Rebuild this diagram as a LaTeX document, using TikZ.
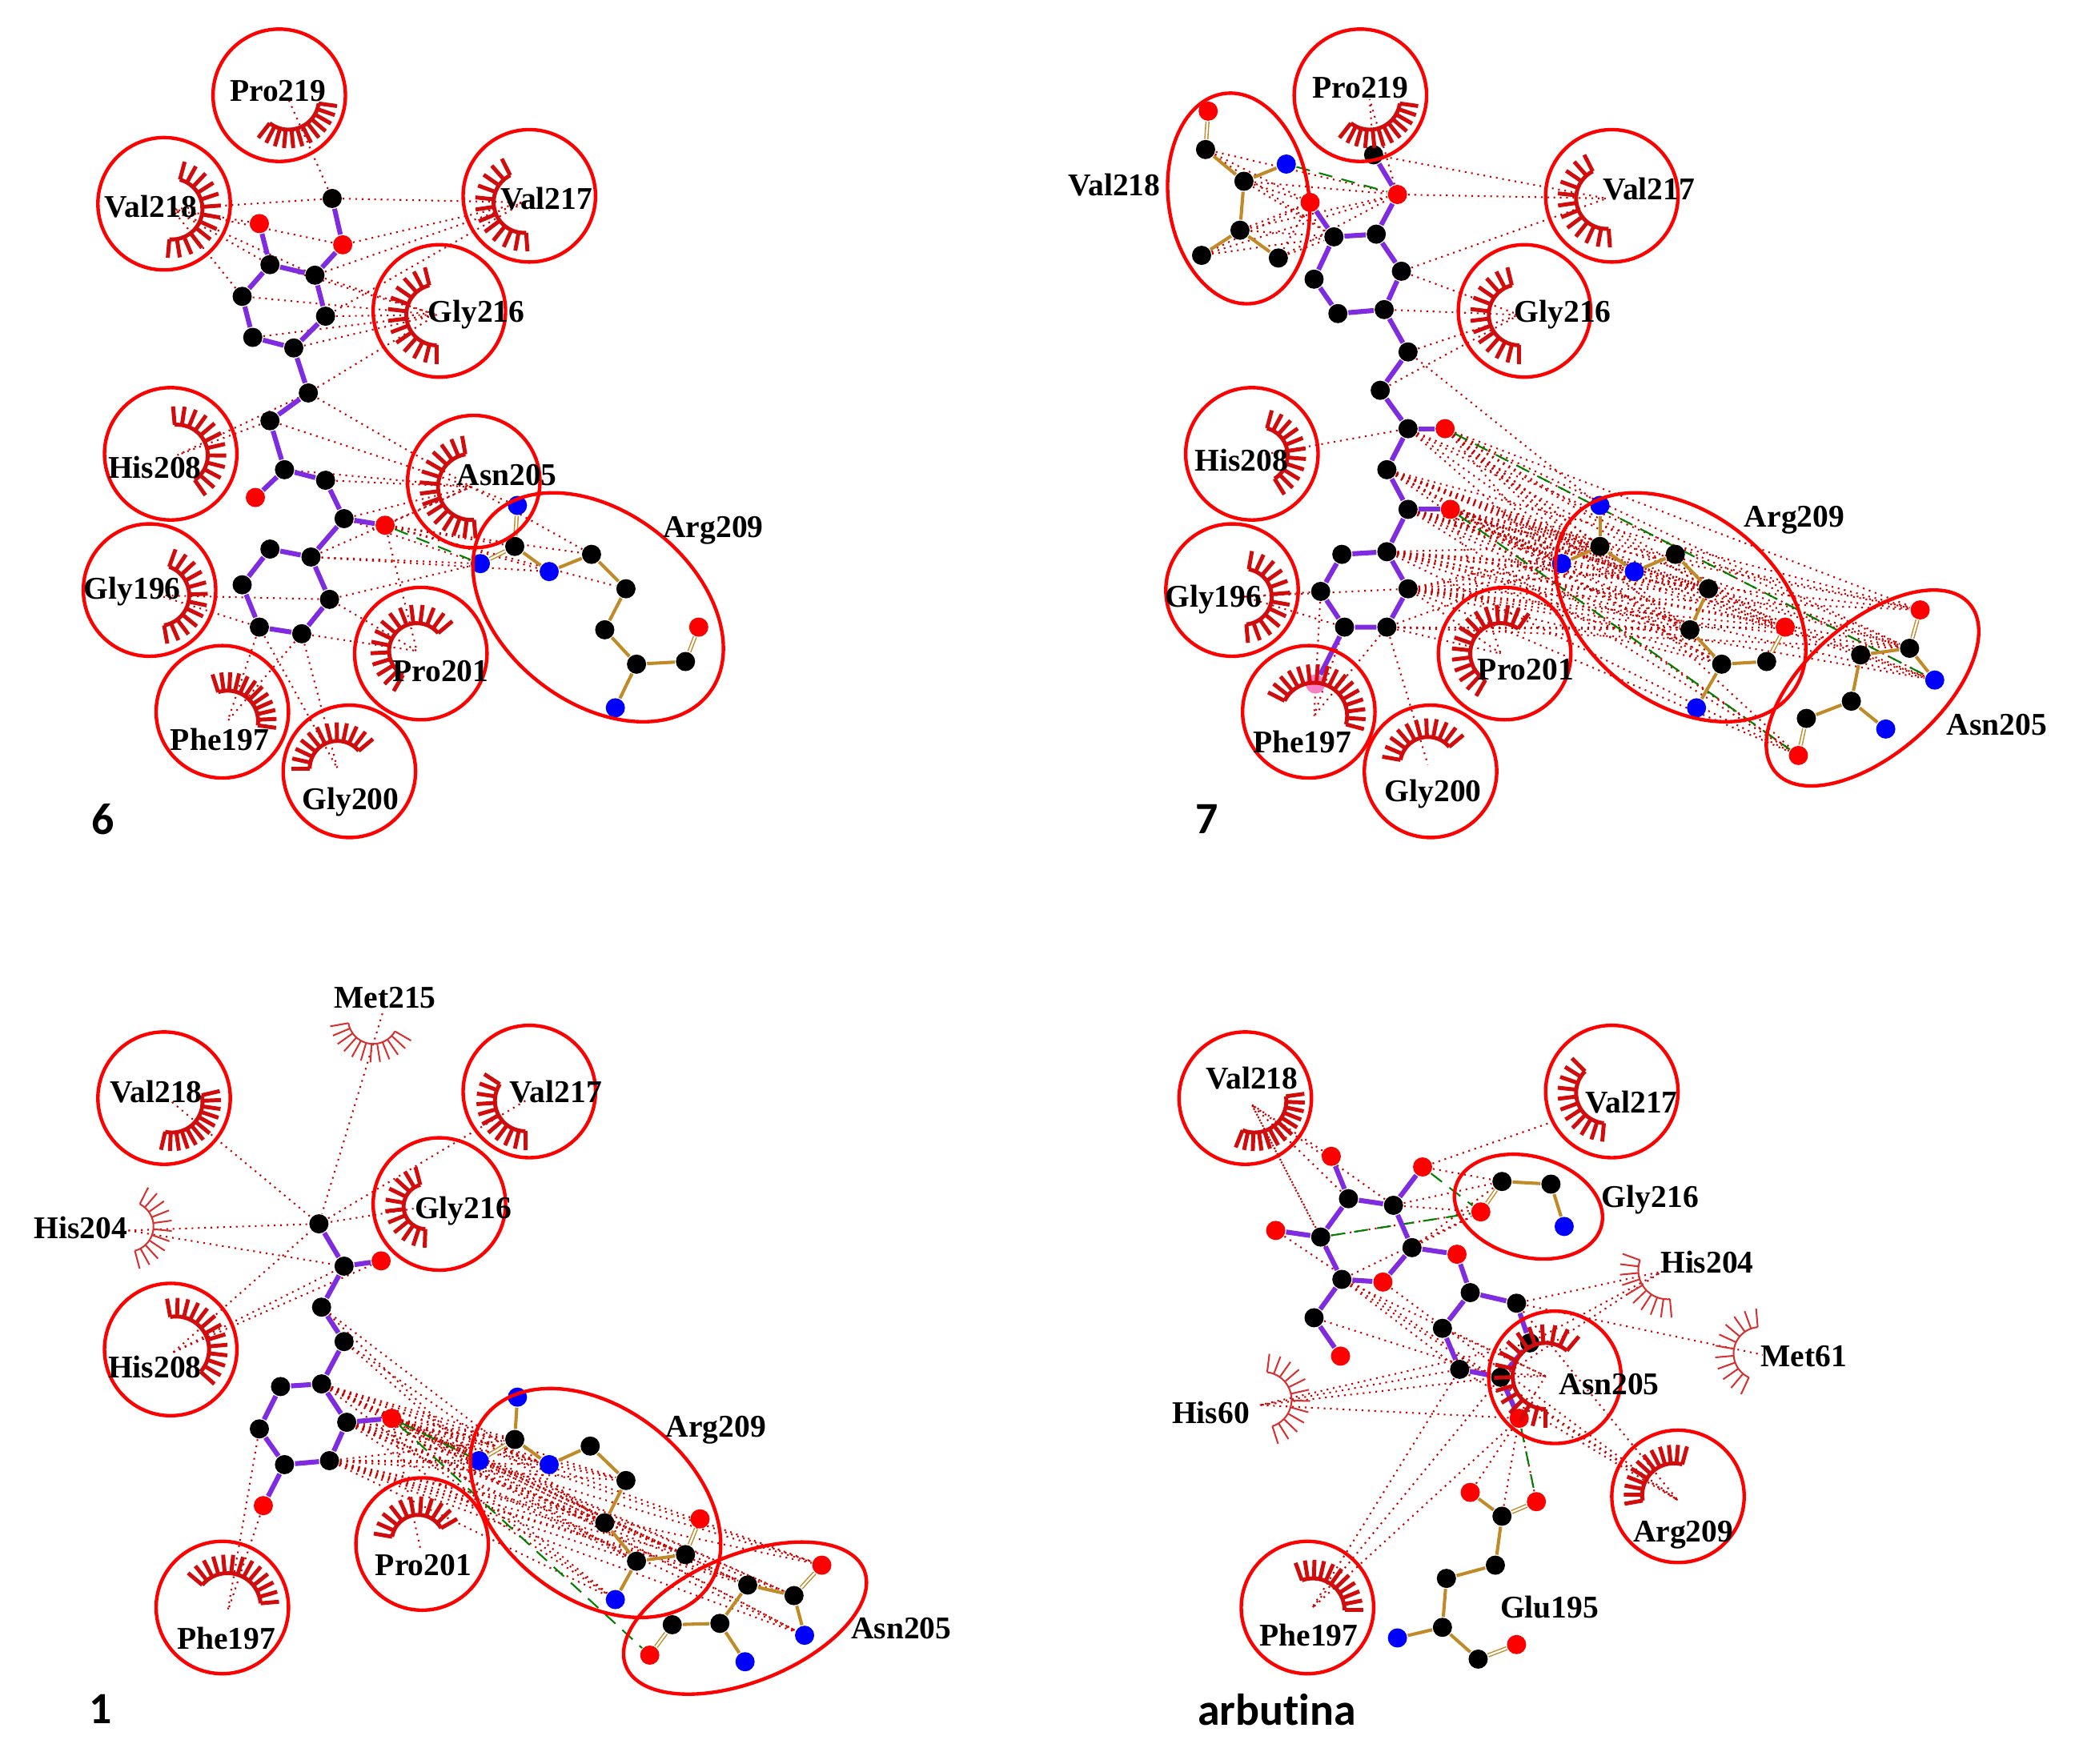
\documentclass[tikz,border=0pt]{standalone}
\usepackage{fontspec}
\setmainfont{Liberation Serif}
\newfontfamily\panelfont[Ligatures=NoCommon]{Carlito}
\usetikzlibrary{shapes.geometric}
\pgfdeclarelayer{bg}
\pgfsetlayers{bg,main}
\definecolor{lashred}{HTML}{D00C0C}
\definecolor{ligviolet}{HTML}{7F2BE0}
\definecolor{resbrown}{HTML}{C08A28}
\tikzset{
  atomc/.style={circle,fill=black,inner sep=0pt,minimum size=0.145cm},
  atomo/.style={atomc,fill=red},
  atomn/.style={atomc,fill=blue},
  atomx/.style={atomc,fill=magenta!50},
  lig/.style={draw=ligviolet,line width=1.05pt},
  res/.style={draw=resbrown,line width=0.7pt},
  resd/.style={draw=resbrown,line width=0.25pt,double=white,double distance=0.4pt},
  contact/.style={draw=red!78!black,densely dotted,line width=0.36pt},
  hbond/.style={draw=green!50!black,densely dashed,line width=0.36pt},
  ring/.style={draw=red,ellipse,line width=0.75pt,inner sep=0pt,minimum width=1cm,minimum height=1cm},
  lashthick/.style={color=lashred,line width=0.85pt},
  lashthin/.style={color=lashred!85!white,line width=0.35pt},
  resname/.style={font=\bfseries\fontsize{6.8}{8}\selectfont,inner sep=0pt,yshift=-0.02cm},
  panelname/.style={font=\panelfont\bfseries\fontsize{9.6}{11}\selectfont,inner sep=0pt}
}
% style, centre, radius, first angle, last angle, spokes
\newcommand{\lash}[6]{%
  \begin{scope}[shift={(#2)},#1]
    \draw plot[domain=#4:#5,samples=24] ({(#3+1)*cos(\x)},{(#3+1)*sin(\x)});
    \foreach \k in {0,...,#6} {
      \pgfmathsetmacro{\ang}{#4+(#5-#4)*\k/#6}
      \draw ({(#3+1)*cos(\ang)},{(#3+1)*sin(\ang)}) -- ({(#3+15)*cos(\ang)},{(#3+15)*sin(\ang)});
    }
  \end{scope}}
\begin{document}
\begin{tikzpicture}[x=0.01cm,y=-0.01cm]
  \useasboundingbox (0,0) rectangle (1568,1333);

  % panel 6
  \node (a1)[atomc] at (251,150) {};
  \node (a2)[atomo] at (259,185) {};
  \node (a3)[atomo] at (196,169) {};
  \node (a4)[atomc] at (204,200) {};
  \node (a5)[atomc] at (238,208) {};
  \node (a6)[atomc] at (183,224) {};
  \node (a7)[atomc] at (246,239) {};
  \node (a8)[atomc] at (191,255) {};
  \node (a9)[atomc] at (222,263) {};
  \node (a10)[atomc] at (233,297) {};
  \node (a11)[atomc] at (204,318) {};
  \node (a12)[atomc] at (215,355) {};
  \node (a13)[atomo] at (193,376) {};
  \node (a14)[atomc] at (246,363) {};
  \node (a15)[atomc] at (260,392) {};
  \node (a16)[atomo] at (291,397) {};
  \node (a17)[atomc] at (204,415) {};
  \node (a18)[atomc] at (235,421) {};
  \node (a19)[atomc] at (183,442) {};
  \node (a20)[atomc] at (249,453) {};
  \node (a21)[atomc] at (196,474) {};
  \node (a22)[atomc] at (228,479) {};
  \node (ar1)[atomn] at (391,382) {};
  \node (ar2)[atomc] at (389,413) {};
  \node (ar3)[atomn] at (363,426) {};
  \node (ar4)[atomn] at (415,432) {};
  \node (ar5)[atomc] at (447,419) {};
  \node (ar6)[atomc] at (473,445) {};
  \node (ar7)[atomc] at (457,476) {};
  \node (ar8)[atomc] at (481,502) {};
  \node (ar9)[atomc] at (518,500) {};
  \node (ar10)[atomo] at (528,474) {};
  \node (ar11)[atomn] at (465,535) {};
  \coordinate (apro219) at (218,75);
  \coordinate (aval218) at (130,158);
  \coordinate (aval217) at (396,153);
  \coordinate (agly216) at (330,238);
  \coordinate (ahis208) at (134,344);
  \coordinate (aasn205) at (356,368);
  \coordinate (agly196) at (120,450);
  \coordinate (aphe197) at (172,545);
  \coordinate (agly200) at (255,581);
  \coordinate (apro201) at (315,492);

  % panel 7
  \node (b1)[atomc] at (1038,117) {};
  \node (b2)[atomo] at (1056,147) {};
  \node (b3)[atomo] at (990,153) {};
  \node (b4)[atomc] at (1008,179) {};
  \node (b5)[atomc] at (1040,177) {};
  \node (b6)[atomc] at (993,211) {};
  \node (b7)[atomc] at (1059,205) {};
  \node (b8)[atomc] at (1011,237) {};
  \node (b9)[atomc] at (1046,234) {};
  \node (b10)[atomc] at (1064,266) {};
  \node (b11)[atomc] at (1043,295) {};
  \node (b12)[atomc] at (1064,324) {};
  \node (b13)[atomo] at (1092,324) {};
  \node (b14)[atomc] at (1048,355) {};
  \node (b15)[atomc] at (1064,385) {};
  \node (b16)[atomo] at (1096,385) {};
  \node (b17)[atomc] at (1048,417) {};
  \node (b18)[atomc] at (1014,419) {};
  \node (b19)[atomc] at (998,447) {};
  \node (b20)[atomc] at (1064,445) {};
  \node (b21)[atomc] at (1016,474) {};
  \node (b22)[atomc] at (1048,474) {};
  \node (b23)[atomx] at (994,517) {};
  \node (bv1)[atomo] at (913,84) {};
  \node (bv2)[atomc] at (911,113) {};
  \node (bv3)[atomn] at (972,124) {};
  \node (bv4)[atomc] at (940,137) {};
  \node (bv5)[atomc] at (937,174) {};
  \node (bv6)[atomc] at (908,193) {};
  \node (bv7)[atomc] at (966,195) {};
  \node (br1)[atomn] at (1209,382) {};
  \node (br2)[atomc] at (1209,413) {};
  \node (br3)[atomn] at (1180,426) {};
  \node (br4)[atomn] at (1235,432) {};
  \node (br5)[atomc] at (1266,419) {};
  \node (br6)[atomc] at (1291,445) {};
  \node (br7)[atomc] at (1277,476) {};
  \node (br8)[atomc] at (1301,502) {};
  \node (br9)[atomc] at (1335,500) {};
  \node (br10)[atomo] at (1349,474) {};
  \node (br11)[atomn] at (1282,535) {};
  \node (bn1)[atomo] at (1451,461) {};
  \node (bn2)[atomc] at (1443,490) {};
  \node (bn3)[atomc] at (1406,495) {};
  \node (bn4)[atomn] at (1462,514) {};
  \node (bn5)[atomc] at (1399,530) {};
  \node (bn6)[atomn] at (1425,551) {};
  \node (bn7)[atomc] at (1365,543) {};
  \node (bn8)[atomo] at (1359,571) {};
  \coordinate (bpro219) at (1035,75);
  \coordinate (bval217) at (1214,150);
  \coordinate (bgly216) at (1148,238);
  \coordinate (bhis208) at (952,344);
  \coordinate (bgly196) at (940,451);
  \coordinate (bphe197) at (993,541);
  \coordinate (bgly200) at (1079,578);
  \coordinate (bpro201) at (1134,494);

  % panel 1
  \node (c1)[atomc] at (241,925) {};
  \node (c2)[atomc] at (260,957) {};
  \node (c3)[atomo] at (288,953) {};
  \node (c4)[atomc] at (243,988) {};
  \node (c5)[atomc] at (260,1014) {};
  \node (c6)[atomc] at (243,1046) {};
  \node (c7)[atomc] at (212,1048) {};
  \node (c8)[atomc] at (196,1080) {};
  \node (c9)[atomc] at (262,1075) {};
  \node (c10)[atomo] at (296,1072) {};
  \node (c11)[atomc] at (215,1107) {};
  \node (c12)[atomc] at (249,1104) {};
  \node (c13)[atomo] at (199,1138) {};
  \node (cr1)[atomn] at (391,1056) {};
  \node (cr2)[atomc] at (389,1088) {};
  \node (cr3)[atomn] at (362,1104) {};
  \node (cr4)[atomn] at (415,1107) {};
  \node (cr5)[atomc] at (446,1093) {};
  \node (cr6)[atomc] at (473,1119) {};
  \node (cr7)[atomc] at (457,1151) {};
  \node (cr8)[atomc] at (481,1180) {};
  \node (cr9)[atomc] at (518,1175) {};
  \node (cr10)[atomo] at (529,1148) {};
  \node (cr11)[atomn] at (465,1209) {};
  \node (cn1)[atomo] at (621,1183) {};
  \node (cn2)[atomc] at (600,1206) {};
  \node (cn3)[atomc] at (565,1198) {};
  \node (cn4)[atomn] at (608,1236) {};
  \node (cn5)[atomc] at (544,1227) {};
  \node (cn6)[atomn] at (563,1256) {};
  \node (cn7)[atomc] at (508,1228) {};
  \node (cn8)[atomo] at (491,1251) {};
  \coordinate (cmet215) at (289,766);
  \coordinate (cval218) at (130,833);
  \coordinate (cval217) at (397,832);
  \coordinate (cgly216) at (322,912);
  \coordinate (chis204) at (97,930);
  \coordinate (chis208) at (131,1022);
  \coordinate (cphe197) at (172,1218);
  \coordinate (cpro201) at (318,1172);

  % panel arbutina
  \node (d1)[atomo] at (1006,874) {};
  \node (d2)[atomo] at (1075,882) {};
  \node (d3)[atomc] at (1019,906) {};
  \node (d4)[atomc] at (1053,911) {};
  \node (d5)[atomo] at (964,930) {};
  \node (d6)[atomc] at (998,935) {};
  \node (d7)[atomc] at (1067,943) {};
  \node (d8)[atomo] at (1101,948) {};
  \node (d9)[atomo] at (1045,969) {};
  \node (d10)[atomc] at (1014,967) {};
  \node (d11)[atomc] at (1111,977) {};
  \node (d12)[atomc] at (1146,985) {};
  \node (d13)[atomc] at (1090,1004) {};
  \node (d14)[atomc] at (993,996) {};
  \node (d15)[atomo] at (1013,1025) {};
  \node (d16)[atomc] at (1156,1015) {};
  \node (d17)[atomc] at (1103,1035) {};
  \node (d18)[atomc] at (1134,1041) {};
  \node (d19)[atomo] at (1148,1072) {};
  \node (dg1)[atomc] at (1135,893) {};
  \node (dg2)[atomc] at (1172,895) {};
  \node (dg3)[atomo] at (1119,916) {};
  \node (dg4)[atomn] at (1182,927) {};
  \node (de1)[atomo] at (1111,1128) {};
  \node (de2)[atomo] at (1161,1135) {};
  \node (de3)[atomc] at (1135,1146) {};
  \node (de4)[atomc] at (1130,1183) {};
  \node (de5)[atomc] at (1093,1193) {};
  \node (de6)[atomc] at (1090,1230) {};
  \node (de7)[atomn] at (1056,1238) {};
  \node (de8)[atomc] at (1117,1254) {};
  \node (de9)[atomo] at (1146,1243) {};
  \coordinate (dval218) at (946,835);
  \coordinate (dval217) at (1173,848);
  \coordinate (dhis204) at (1256,961);
  \coordinate (dmet61) at (1332,1024);
  \coordinate (dhis60) at (952,1062);
  \coordinate (dasn205) at (1168,1040);
  \coordinate (darg209) at (1268,1134);
  \coordinate (dphe197) at (991,1216);

  \begin{pgfonlayer}{bg}
    % contacts of panel 6
    \draw[contact] (a1) -- (apro219);
    \foreach \s in {a1,a2,a3,a4,a5,a6} \draw[contact] (\s) -- (aval218);
    \foreach \s in {a1,a2,a5,a7} \draw[contact] (\s) -- (aval217);
    \foreach \s in {a4,a5,a6,a7,a8,a9,a10} \draw[contact] (\s) -- (agly216);
    \foreach \s in {a10,a11} \draw[contact] (\s) -- (ahis208);
    \foreach \s in {a10,a11,a12,a14,a15,a16,a18,ar1,ar5} \draw[contact] (\s) -- (aasn205);
    \foreach \s in {a20,a21} \draw[contact] (\s) -- (agly196);
    \foreach \s in {a21,a22} \draw[contact] (\s) -- (aphe197);
    \foreach \s in {a21,a22} \draw[contact] (\s) -- (agly200);
    \foreach \s in {a16,a20,a22} \draw[contact] (\s) -- (apro201);
    \foreach \t in {ar2,ar4,ar5,ar6} \draw[contact] (a16) -- (\t);
    \foreach \s in {a15,a18,a20} \draw[contact] (\s) -- (ar3);
    \draw[contact] (a18) -- (ar4);
    \draw[hbond] (a16) -- (ar3);

    % contacts of panel 7
    \foreach \s in {b1,b2} \draw[contact] (\s) -- (bpro219);
    \foreach \s in {b1,b2,b7} \draw[contact] (\s) -- (bval217);
    \foreach \s in {b7,b9,b10,b11} \draw[contact] (\s) -- (bgly216);
    \draw[contact] (b12) -- (bhis208);
    \foreach \s in {b19,b20,b21} \draw[contact] (\s) -- (bgly196);
    \foreach \s in {b19,b21,b22} \draw[contact] (\s) -- (bphe197);
    \draw[contact] (b22) -- (bgly200);
    \foreach \s in {b16,b20,b22} \draw[contact] (\s) -- (bpro201);
    \foreach \s in {bv2,bv4,bv5,bv6,bv7} {
      \draw[contact] (\s) -- (b2);
      \draw[contact] (\s) -- (b3);
      \draw[contact] (\s) -- (b4);
    }
    \draw[contact] (b10) -- (br1);
    \foreach \s in {b13,b14,b15,b16,b17,b20} {
      \foreach \t in {br2,br3,br4,br6,br7,br8,br10,bn1,bn2,bn4,bn8} {
        \draw[contact] (\s) -- (\t);
      }
    }
    \foreach \s in {b22,b12} {
      \foreach \t in {br3,br7,br10,bn2} \draw[contact] (\s) -- (\t);
    }
    \draw[hbond] (bv3) -- (b2);
    \draw[hbond] (b13) -- (bn4);
    \draw[hbond] (b16) -- (bn8);

    % contacts of panel 1
    \foreach \s in {cmet215,cval218,cval217,cgly216,chis204,chis208} \draw[contact] (\s) -- (c1);
    \foreach \s in {chis204,chis208} \draw[contact] (\s) -- (c2);
    \draw[contact] (chis208) -- (c3);
    \foreach \s in {c8,c13} \draw[contact] (\s) -- (cphe197);
    \draw[contact] (c10) -- (cpro201);
    \foreach \s in {c4,c5} {
      \foreach \t in {cr3,cr7} \draw[contact] (\s) -- (\t);
    }
    \foreach \s in {c6,c9,c10,c12} {
      \foreach \t in {cr2,cr3,cr4,cr6,cr7,cr8,cr9,cr11,cn1,cn2,cn3,cn4} {
        \draw[contact] (\s) -- (\t);
      }
    }
    \draw[hbond] (c10) -- (cr3);
    \draw[hbond] (c10) -- (cn8);

    % contacts of panel arbutina
    \foreach \s in {d1,d3,d4,d6,d10} \draw[contact] (\s) -- (dval218);
    \draw[contact] (d2) -- (dval217);
    \foreach \s in {d12,d16,d18} \draw[contact] (\s) -- (dhis204);
    \draw[contact] (d12) -- (dmet61);
    \foreach \s in {d16,d17,d18,d19} \draw[contact] (\s) -- (dhis60);
    \foreach \s in {d10,d13,d17,d18,d19} \draw[contact] (\s) -- (dasn205);
    \foreach \s in {d5,d9,d10,d12,d17} \draw[contact] (\s) -- (darg209);
    \foreach \s in {d17,d18,d19} \draw[contact] (\s) -- (dphe197);
    \foreach \s in {d2,d4,d7} \draw[contact] (\s) -- (dg1);
    \foreach \s in {d4,d6,d7,d10} \draw[contact] (\s) -- (dg3);
    \foreach \s in {de1,de2,de3} \draw[contact] (\s) -- (d19);
    \draw[contact] (d14) -- (d18);
    \draw[contact] (d10) -- (d17);
    \draw[hbond] (d2) -- (dg3);
    \draw[hbond] (d6) -- (dg3);
    \draw[hbond] (d19) -- (de2);

    % bonds of panel 6
    \draw[lig] (a1) -- (a2) -- (a5);
    \draw[lig] (a3) -- (a4) -- (a5) -- (a7) -- (a9) -- (a8) -- (a6) -- (a4);
    \draw[lig] (a9) -- (a10) -- (a11) -- (a12) -- (a14) -- (a15) -- (a18);
    \draw[lig] (a12) -- (a13);
    \draw[lig] (a15) -- (a16);
    \draw[lig] (a18) -- (a17) -- (a19) -- (a21) -- (a22) -- (a20) -- (a18);
    \draw[resd] (ar1) -- (ar2);
    \draw[resd] (ar3) -- (ar2);
    \draw[res] (ar2) -- (ar4) -- (ar5) -- (ar6) -- (ar7) -- (ar8) -- (ar9);
    \draw[res] (ar8) -- (ar11);
    \draw[resd] (ar9) -- (ar10);

    % bonds of panel 7
    \draw[lig] (b1) -- (b2) -- (b5);
    \draw[lig] (b3) -- (b4) -- (b5) -- (b7) -- (b9) -- (b8) -- (b6) -- (b4);
    \draw[lig] (b9) -- (b10) -- (b11) -- (b12) -- (b14) -- (b15) -- (b17);
    \draw[lig] (b12) -- (b13);
    \draw[lig] (b15) -- (b16);
    \draw[lig] (b17) -- (b18) -- (b19) -- (b21) -- (b22) -- (b20) -- (b17);
    \draw[lig] (b21) -- (b23);
    \draw[resd] (bv1) -- (bv2);
    \draw[res] (bv2) -- (bv4) -- (bv5) -- (bv6);
    \draw[res] (bv3) -- (bv4);
    \draw[res] (bv5) -- (bv7);
    \draw[res] (br1) -- (br2);
    \draw[res] (br3) -- (br2);
    \draw[res] (br2) -- (br4) -- (br5) -- (br6) -- (br7) -- (br8) -- (br9);
    \draw[res] (br8) -- (br11);
    \draw[resd] (br9) -- (br10);
    \draw[resd] (bn1) -- (bn2);
    \draw[res] (bn4) -- (bn2) -- (bn3) -- (bn5) -- (bn7);
    \draw[res] (bn5) -- (bn6);
    \draw[resd] (bn7) -- (bn8);

    % bonds of panel 1
    \draw[lig] (c1) -- (c2) -- (c4) -- (c5) -- (c6) -- (c7) -- (c8) -- (c11) -- (c12) -- (c9) -- (c6);
    \draw[lig] (c2) -- (c3);
    \draw[lig] (c9) -- (c10);
    \draw[lig] (c11) -- (c13);
    \draw[res] (cr1) -- (cr2);
    \draw[resd] (cr3) -- (cr2);
    \draw[res] (cr2) -- (cr4) -- (cr5) -- (cr6) -- (cr7) -- (cr8) -- (cr9);
    \draw[res] (cr8) -- (cr11);
    \draw[resd] (cr9) -- (cr10);
    \draw[resd] (cn1) -- (cn2);
    \draw[res] (cn4) -- (cn2) -- (cn3) -- (cn5) -- (cn7);
    \draw[res] (cn5) -- (cn6);
    \draw[resd] (cn7) -- (cn8);

    % bonds of panel arbutina
    \draw[lig] (d1) -- (d3) -- (d4) -- (d2);
    \draw[lig] (d3) -- (d6) -- (d5);
    \draw[lig] (d6) -- (d10) -- (d9) -- (d7) -- (d4);
    \draw[lig] (d7) -- (d8) -- (d11) -- (d12) -- (d16) -- (d18) -- (d17) -- (d13) -- (d11);
    \draw[lig] (d10) -- (d14) -- (d15);
    \draw[lig] (d18) -- (d19);
    \draw[resd] (dg3) -- (dg1);
    \draw[res] (dg1) -- (dg2) -- (dg4);
    \draw[res] (de1) -- (de3);
    \draw[resd] (de3) -- (de2);
    \draw[res] (de3) -- (de4) -- (de5) -- (de6) -- (de7);
    \draw[res] (de6) -- (de8);
    \draw[resd] (de8) -- (de9);
  \end{pgfonlayer}

  % rings of panel 6
  \node (ringa1)[ring] at (211,72) {};
  \node (ringa2)[ring] at (124,154) {};
  \node (ringa3)[ring] at (400,148) {};
  \node (ringa4)[ring] at (332,235) {};
  \node (ringa5)[ring] at (129,343) {};
  \node (ringa6)[ring] at (358,364) {};
  \node (ringa7)[ring] at (113,446) {};
  \node (ringa8)[ring] at (168,538) {};
  \node (ringa9)[ring] at (264,583) {};
  \node (ringa10)[ring] at (318,494) {};
  \node (ringa11)[ring,minimum width=2.12cm,minimum height=1.44cm,rotate=-38] at (452,459) {};
  % rings of panel 7
  \node (ringb1)[ring] at (1028,72) {};
  \node (ringb2)[ring,minimum width=1.6cm,minimum height=1.06cm,rotate=-82] at (936,150) {};
  \node (ringb3)[ring] at (1218,148) {};
  \node (ringb4)[ring] at (1152,235) {};
  \node (ringb5)[ring] at (946,343) {};
  \node (ringb6)[ring] at (931,446) {};
  \node (ringb7)[ring] at (989,538) {};
  \node (ringb8)[ring] at (1081,583) {};
  \node (ringb9)[ring] at (1137,494) {};
  \node (ringb10)[ring,minimum width=2.12cm,minimum height=1.44cm,rotate=-38] at (1270,459) {};
  \node (ringb11)[ring,minimum width=1.94cm,minimum height=1cm,rotate=41] at (1415,520) {};
  % rings of panel 1
  \node (ringc1)[ring] at (124,830) {};
  \node (ringc2)[ring] at (400,825) {};
  \node (ringc3)[ring] at (332,910) {};
  \node (ringc4)[ring] at (129,1020) {};
  \node (ringc5)[ring] at (168,1215) {};
  \node (ringc6)[ring] at (319,1167) {};
  \node (ringc7)[ring,minimum width=2.12cm,minimum height=1.44cm,rotate=-38] at (450,1136) {};
  \node (ringc8)[ring,minimum width=1.94cm,minimum height=0.96cm,rotate=22] at (563,1223) {};
  % rings of panel arbutina
  \node (ringd1)[ring] at (941,830) {};
  \node (ringd2)[ring] at (1218,825) {};
  \node (ringd3)[ring,minimum width=1.14cm,minimum height=0.76cm,rotate=-15] at (1155,912) {};
  \node (ringd4)[ring] at (1175,1041) {};
  \node (ringd5)[ring] at (1268,1131) {};
  \node (ringd6)[ring] at (988,1215) {};

  % hydrophobic arcs
  \lash{lashthick}{apro219}{22}{8}{128}{11}
  \lash{lashthick}{aval218}{22}{-75}{95}{12}
  \lash{lashthick}{aval217}{22}{86}{243}{11}
  \lash{lashthick}{agly216}{22}{90}{256}{12}
  \lash{lashthick}{ahis208}{22}{-95}{55}{11}
  \lash{lashthick}{aasn205}{24}{85}{260}{14}
  \lash{lashthick}{agly196}{22}{-70}{80}{11}
  \lash{lashthick}{aphe197}{22}{-108}{8}{11}
  \lash{lashthick}{agly200}{20}{180}{320}{11}
  \lash{lashthick}{apro201}{20}{120}{320}{14}

  \lash{lashthick}{bpro219}{22}{8}{128}{11}
  \lash{lashthick}{bval217}{22}{86}{243}{11}
  \lash{lashthick}{bgly216}{22}{90}{256}{12}
  \lash{lashthick}{bhis208}{20}{-75}{58}{10}
  \lash{lashthick}{bgly196}{20}{-80}{85}{11}
  \lash{lashthick}{bphe197}{24}{207}{375}{15}
  \lash{lashthick}{bgly200}{20}{190}{320}{10}
  \lash{lashthick}{bpro201}{22}{120}{305}{14}

  \lash{lashthin}{282,770}{18}{30}{170}{11}
  \lash{lashthick}{cval218}{22}{-13}{103}{11}
  \lash{lashthick}{cval217}{22}{90}{213}{10}
  \lash{lashthick}{cgly216}{16}{92}{255}{10}
  \lash{lashthin}{97,927}{18}{-63}{75}{10}
  \lash{lashthick}{133,1020}{24}{-100}{42}{12}
  \lash{lashthick}{172,1214}{24}{220}{355}{12}
  \lash{lashthick}{316,1165}{19}{190}{330}{10}

  \lash{lashthick}{948,832}{23}{-8}{112}{12}
  \lash{lashthick}{1214,826}{22}{95}{225}{10}
  \lash{lashthin}{1260,960}{21}{85}{200}{9}
  \lash{lashthin}{1330,1023}{19}{115}{265}{10}
  \lash{lashthin}{955,1058}{20}{-83}{72}{11}
  \lash{lashthick}{dasn205}{24}{90}{310}{15}
  \lash{lashthick}{1265,1130}{23}{170}{285}{11}
  \lash{lashthick}{992,1217}{23}{250}{360}{10}

  % residue names of panel 6
  \node (na1)[resname] at (210,67) {Pro219};
  \node (na2)[resname] at (114,154) {Val218};
  \node (na3)[resname] at (413,148) {Val217};
  \node (na4)[resname] at (360,236) {Gly216};
  \node (na5)[resname] at (117,351) {His208};
  \node (na6)[resname] at (383,357) {Asn205};
  \node (na7)[resname] at (539,399) {Arg209};
  \node (na8)[resname] at (100,445) {Gly196};
  \node (na9)[resname] at (166,557) {Phe197};
  \node (na10)[resname] at (265,604) {Gly200};
  \node (na11)[resname] at (333,505) {Pro201};
  \node (na12)[panelname] at (78,619) {6};
  % residue names of panel 7
  \node (nb1)[resname] at (1028,64) {Pro219};
  \node (nb2)[resname] at (842,138) {Val218};
  \node (nb3)[resname] at (1246,141) {Val217};
  \node (nb4)[resname] at (1181,236) {Gly216};
  \node (nb5)[resname] at (938,346) {His208};
  \node (nb6)[resname] at (1356,391) {Arg209};
  \node (nb7)[resname] at (917,451) {Gly196};
  \node (nb8)[resname] at (984,559) {Phe197};
  \node (nb9)[resname] at (1083,598) {Gly200};
  \node (nb10)[resname] at (1153,504) {Pro201};
  \node (nb11)[resname] at (1509,546) {Asn205};
  \node (nb12)[panelname] at (912,619) {7};
  % residue names of panel 1
  \node (nc1)[resname] at (291,752) {Met215};
  \node (nc2)[resname] at (118,823) {Val218};
  \node (nc3)[resname] at (420,823) {Val217};
  \node (nc4)[resname] at (350,913) {Gly216};
  \node (nc5)[resname] at (61,926) {His204};
  \node (nc6)[resname] at (117,1031) {His208};
  \node (nc7)[resname] at (541,1079) {Arg209};
  \node (nc8)[resname] at (681,1229) {Asn205};
  \node (nc9)[resname] at (171,1236) {Phe197};
  \node (nc10)[resname] at (320,1181) {Pro201};
  \node (nc11)[panelname] at (76,1292) {1};
  % residue names of panel arbutina
  \node (nd1)[resname] at (946,813) {Val218};
  \node (nd2)[resname] at (1233,831) {Val217};
  \node (nd3)[resname] at (1247,905) {Gly216};
  \node (nd4)[resname] at (1290,952) {His204};
  \node (nd5)[resname] at (1363,1023) {Met61};
  \node (nd6)[resname] at (1216,1044) {Asn205};
  \node (nd7)[resname] at (915,1066) {His60};
  \node (nd8)[resname] at (1272,1158) {Arg209};
  \node (nd9)[resname] at (1171,1213) {Glu195};
  \node (nd10)[resname] at (989,1234) {Phe197};
  \node (nd11)[panelname] at (965,1292) {arbutina};
\end{tikzpicture}
\end{document}
